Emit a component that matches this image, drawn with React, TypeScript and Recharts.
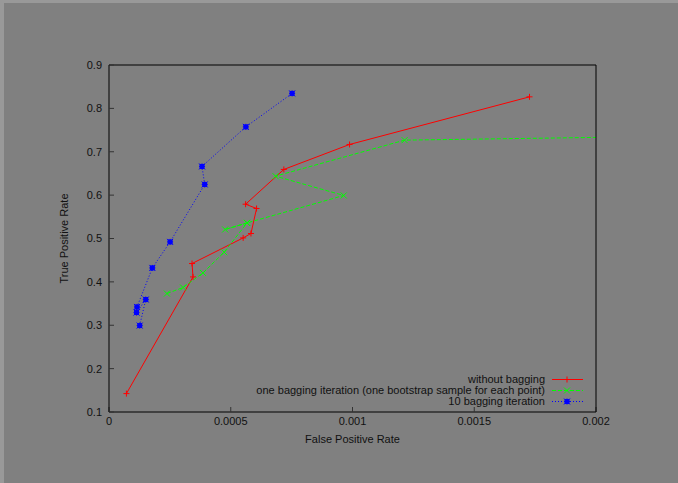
import { Legend, Line, LineChart, XAxis, YAxis } from 'recharts';

const FPR_TICKS = [0, 0.0005, 0.001, 0.0015, 0.002];
const TPR_TICKS = [0.1, 0.2, 0.3, 0.4, 0.5, 0.6, 0.7, 0.8, 0.9];

// without bagging
const plainFpr = [0.0000715, 0.000345, 0.000341, 0.000551, 0.000583, 0.000606, 0.000561, 0.000718, 0.000988, 0.001727];
const plainTpr = [0.1424, 0.4114, 0.4423, 0.5014, 0.5115, 0.5692, 0.5791, 0.6592, 0.7168, 0.8266];

// one bagging iteration
const oneBagFpr = [0.000238, 0.000304, 0.000386, 0.000473, 0.000567, 0.000477, 0.000567, 0.000964, 0.000684, 0.001214, 0.0025];
const oneBagTpr = [0.3731, 0.387, 0.4207, 0.4684, 0.536, 0.5208, 0.536, 0.5992, 0.6437, 0.7268, 0.737];

// 10 bagging iteration
const tenBagFpr = [0.000126, 0.000151, 0.000113, 0.000115, 0.000178, 0.000251, 0.000393, 0.000382, 0.000562, 0.000752];
const tenBagTpr = [0.2993, 0.3593, 0.3293, 0.3422, 0.4322, 0.4922, 0.6246, 0.6661, 0.7574, 0.8345];

const SERIES_NAMES = [
  'without bagging',
  'one bagging iteration (one bootstrap sample for each point)',
  '10 bagging iteration'
];

const toPoints = (xs: number[], ys: number[]) => xs.map((x, i) => ({ x, y: ys[i] }));

const SERIES = [
  { name: SERIES_NAMES[0], data: toPoints(plainFpr, plainTpr), color: '#ff0000', dash: undefined, marker: 'plus' },
  { name: SERIES_NAMES[1], data: toPoints(oneBagFpr, oneBagTpr), color: '#00ff00', dash: '4 2', marker: 'cross' },
  { name: SERIES_NAMES[2], data: toPoints(tenBagFpr, tenBagTpr), color: '#0000ff', dash: '1 2', marker: 'star' }
];

const FONT = '"Liberation Sans", Arial, sans-serif';
const TEXT = '#111';

function Marker({ cx, cy, kind, color }: { cx: number; cy: number; kind: string; color: string }) {
  const r = 3;
  const plus = (
    <>
      <line x1={cx - r} x2={cx + r} y1={cy} y2={cy} stroke={color} strokeWidth={1} />
      <line x1={cx} x2={cx} y1={cy - r} y2={cy + r} stroke={color} strokeWidth={1} />
    </>
  );
  const cross = (
    <>
      <line x1={cx - r} x2={cx + r} y1={cy - r} y2={cy + r} stroke={color} strokeWidth={1} />
      <line x1={cx - r} x2={cx + r} y1={cy + r} y2={cy - r} stroke={color} strokeWidth={1} />
    </>
  );
  if (kind === 'plus') return <g>{plus}</g>;
  if (kind === 'cross') return <g>{cross}</g>;
  return (
    <g>
      <rect x={cx - 2.5} y={cy - 2.5} width={5} height={5} fill={color} />
      {plus}
      {cross}
    </g>
  );
}

function LegendBox() {
  return (
    <div style={{ fontFamily: FONT, fontSize: 11, color: TEXT }}>
      {SERIES.map((s) => (
        <div
          key={s.name}
          style={{ display: 'flex', justifyContent: 'flex-end', alignItems: 'center', width: 583, height: 11.2, lineHeight: '11.2px' }}
        >
          <span style={{ whiteSpace: 'nowrap' }}>{s.name}</span>
          <svg width={31} height={11} style={{ marginLeft: 7, display: 'block' }}>
            <line x1={0} x2={31} y1={5.5} y2={5.5} stroke={s.color} strokeWidth={1} strokeDasharray={s.dash} />
            <Marker cx={15} cy={5.5} kind={s.marker} color={s.color} />
          </svg>
        </div>
      ))}
    </div>
  );
}

export default function App() {
  return (
    <div
      style={{
        position: 'absolute',
        left: 0,
        top: 0,
        width: 678,
        height: 483,
        background: '#808080',
        borderLeft: '4px solid #999999',
        borderTop: '3px solid #999999',
        boxSizing: 'border-box'
      }}
    >
      <LineChart
        width={678}
        height={483}
        margin={{ top: 60, right: 77, bottom: 31, left: 19 }}
        style={{ position: 'absolute', left: -4, top: -3, fontFamily: FONT }}
      >
        <XAxis
          dataKey="x"
          type="number"
          domain={[0, 0.002]}
          ticks={FPR_TICKS}
          allowDataOverflow
          height={40}
          tickSize={-5}
          tickMargin={10}
          axisLine={{ stroke: '#000', strokeWidth: 1 }}
          tickLine={{ stroke: '#333' }}
          tick={{ fill: TEXT, fontSize: 11 }}
          label={{ value: 'False Positive Rate', position: 'insideBottom', offset: 9, fill: TEXT, fontSize: 11 }}
        />
        <XAxis
          xAxisId="top"
          orientation="top"
          dataKey="x"
          type="number"
          domain={[0, 0.002]}
          ticks={FPR_TICKS}
          allowDataOverflow
          height={5}
          tickSize={-5}
          axisLine={{ stroke: '#000', strokeWidth: 1 }}
          tickLine={{ stroke: '#333' }}
          tick={false}
        />
        <YAxis
          type="number"
          domain={[0.1, 0.9]}
          ticks={TPR_TICKS}
          allowDataOverflow
          width={90}
          tickSize={-5}
          tickMargin={12}
          axisLine={{ stroke: '#000', strokeWidth: 1 }}
          tickLine={{ stroke: '#333' }}
          tick={{ fill: TEXT, fontSize: 11 }}
          label={{ value: 'True Positive Rate', angle: -90, position: 'center', fill: TEXT, fontSize: 11 }}
        />
        <YAxis
          yAxisId="right"
          orientation="right"
          type="number"
          domain={[0.1, 0.9]}
          ticks={TPR_TICKS}
          allowDataOverflow
          width={5}
          tickSize={-5}
          axisLine={{ stroke: '#000', strokeWidth: 1 }}
          tickLine={{ stroke: '#333' }}
          tick={false}
        />
        <Legend
          layout="vertical"
          align="center"
          verticalAlign="middle"
          content={() => <LegendBox />}
          wrapperStyle={{ left: 0, top: 373.5, width: 600 }}
        />
        {SERIES.map((s) => (
          <Line
            key={s.name}
            name={s.name}
            data={s.data}
            dataKey="y"
            type="linear"
            stroke={s.color}
            strokeWidth={1}
            strokeDasharray={s.dash}
            isAnimationActive={false}
            activeDot={false}
            dot={(p: any) => (
              <Marker key={`${s.marker}-${p.index}`} cx={p.cx} cy={p.cy} kind={s.marker} color={s.color} />
            )}
          />
        ))}
      </LineChart>
    </div>
  );
}
